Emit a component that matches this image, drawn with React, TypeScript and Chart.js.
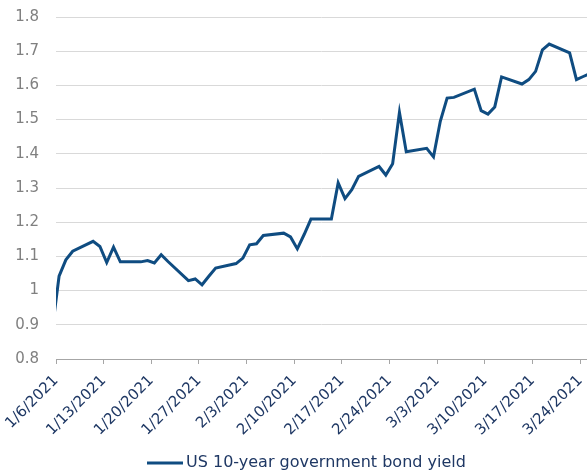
import React, { useEffect, useRef } from "react";
import { Chart, registerables } from "chart.js";

Chart.register(...registerables);

// ---- Data ----
const SERIES_LABEL = "US 10-year government bond yield";
const START_DATE = "2021-01-06";
const TICK_LABELS = [
  "1/6/2021", "1/13/2021", "1/20/2021", "1/27/2021", "2/3/2021", "2/10/2021",
  "2/17/2021", "2/24/2021", "3/3/2021", "3/10/2021", "3/17/2021", "3/24/2021",
];
const DATES = [
  "2021-01-05", "2021-01-06", "2021-01-07", "2021-01-08",
  "2021-01-11", "2021-01-12", "2021-01-13", "2021-01-14", "2021-01-15",
  "2021-01-18", "2021-01-19", "2021-01-20", "2021-01-21", "2021-01-22",
  "2021-01-25", "2021-01-26", "2021-01-27", "2021-01-28", "2021-01-29",
  "2021-02-01", "2021-02-02", "2021-02-03", "2021-02-04", "2021-02-05",
  "2021-02-08", "2021-02-09", "2021-02-10", "2021-02-11", "2021-02-12",
  "2021-02-15", "2021-02-16", "2021-02-17", "2021-02-18", "2021-02-19",
  "2021-02-22", "2021-02-23", "2021-02-24", "2021-02-25", "2021-02-26",
  "2021-03-01", "2021-03-02", "2021-03-03", "2021-03-04", "2021-03-05",
  "2021-03-08", "2021-03-09", "2021-03-10", "2021-03-11", "2021-03-12",
  "2021-03-15", "2021-03-16", "2021-03-17", "2021-03-18", "2021-03-19",
  "2021-03-22", "2021-03-23", "2021-03-24", "2021-03-25",
];
const YIELDS = [
  0.885, 1.042, 1.09, 1.115,
  1.144, 1.129, 1.082, 1.127, 1.084,
  1.084, 1.088, 1.081, 1.105, 1.085,
  1.029, 1.034, 1.017, 1.042, 1.066,
  1.079, 1.095, 1.134, 1.137, 1.161,
  1.168, 1.157, 1.122, 1.164, 1.209,
  1.209, 1.315, 1.269, 1.295, 1.334,
  1.363, 1.338, 1.371, 1.521, 1.406,
  1.416, 1.391, 1.495, 1.563, 1.565,
  1.589, 1.526, 1.516, 1.537, 1.625,
  1.604, 1.617, 1.641, 1.704, 1.721,
  1.695, 1.617, 1.626, 1.635,
];
// quotes are stamped mid-session (fraction of a day)
const QUOTE_TIME_OF_DAY = 0.45;
const Y_MIN = 0.8;
const Y_MAX = 1.8;
const Y_STEP = 0.1;
const X_END_DATE = "2021-03-25";

const DAY_MS = 86400000;
const dayIndex = (iso: string) =>
  Math.round((Date.parse(iso + "T00:00:00Z") - Date.parse(START_DATE + "T00:00:00Z")) / DAY_MS);
const labelToIso = (l: string) => {
  const [m, d, y] = l.split("/").map(Number);
  return `${y}-${String(m).padStart(2, "0")}-${String(d).padStart(2, "0")}`;
};

const NAVY = "#1F3864";
const LINE = "#0F4C81";
const FONT = "'DejaVu Sans', sans-serif";

export default function App() {
  const ref = useRef<HTMLCanvasElement | null>(null);

  useEffect(() => {
    document.body.style.margin = "0";
    const canvas = ref.current;
    if (!canvas) return;

    const points = DATES.map((d, i) => ({ x: dayIndex(d) + QUOTE_TIME_OF_DAY, y: YIELDS[i] }));
    const tickDays = TICK_LABELS.map((l) => dayIndex(labelToIso(l)));
    const tickText: Record<number, string> = {};
    TICK_LABELS.forEach((l, i) => (tickText[tickDays[i]] = l));

    const legendPlugin = {
      id: "customLegend",
      afterDraw(chart: any) {
        const ctx = chart.ctx;
        const y = 463;
        ctx.save();
        ctx.strokeStyle = LINE;
        ctx.lineWidth = 3;
        ctx.beginPath();
        ctx.moveTo(147, y);
        ctx.lineTo(183, y);
        ctx.stroke();
        ctx.fillStyle = NAVY;
        ctx.font = `16px ${FONT}`;
        ctx.textAlign = "left";
        ctx.textBaseline = "middle";
        ctx.fillText(chart.data.datasets[0].label, 186, y);
        ctx.restore();
      },
    };

    const chart = new Chart(canvas, {
      type: "line",
      data: {
        datasets: [
          {
            label: SERIES_LABEL,
            data: points,
            borderColor: LINE,
            backgroundColor: LINE,
            borderWidth: 3,
            pointRadius: 0,
            tension: 0,
            clip: { left: 0, right: 0, top: 6, bottom: 6 } as any,
          },
        ],
      },
      options: {
        responsive: false,
        animation: false,
        layout: { padding: { top: 17, right: 0, left: 0, bottom: 0 } },
        plugins: { legend: { display: false }, tooltip: { enabled: false } },
        scales: {
          x: {
            type: "linear",
            min: 0,
            max: dayIndex(X_END_DATE),
            afterBuildTicks: (scale: any) => {
              scale.ticks = tickDays.map((v) => ({ value: v }));
            },
            afterFit: (scale: any) => {
              scale.height = 115;
              scale.paddingLeft = 0;
              scale.paddingRight = 0;
            },
            grid: {
              display: true,
              drawOnChartArea: false,
              drawTicks: true,
              tickLength: 5,
              color: "#A6A6A6",
            },
            border: { display: true, color: "#A6A6A6", width: 1 },
            ticks: {
              autoSkip: false,
              maxRotation: 45,
              minRotation: 45,
              padding: 8,
              color: NAVY,
              font: { family: FONT, size: 15 },
              callback: (v: any) => tickText[Math.round(Number(v))] ?? "",
            },
          },
          y: {
            min: Y_MIN,
            max: Y_MAX,
            afterFit: (scale: any) => {
              scale.width = 56;
              scale.paddingTop = 0;
              scale.paddingBottom = 0;
            },
            grid: { color: "#D9D9D9", lineWidth: 1, drawTicks: false },
            border: { display: false },
            ticks: {
              stepSize: Y_STEP,
              padding: 17,
              color: "#808080",
              font: { family: FONT, size: 15 },
              callback: (v: any) => String(Number(Number(v).toFixed(1))),
            },
          },
        },
      },
      plugins: [legendPlugin],
    });
    return () => chart.destroy();
  }, []);

  return (
    <div style={{ width: 587, height: 474 }}>
      <canvas ref={ref} width={587} height={474} />
    </div>
  );
}
